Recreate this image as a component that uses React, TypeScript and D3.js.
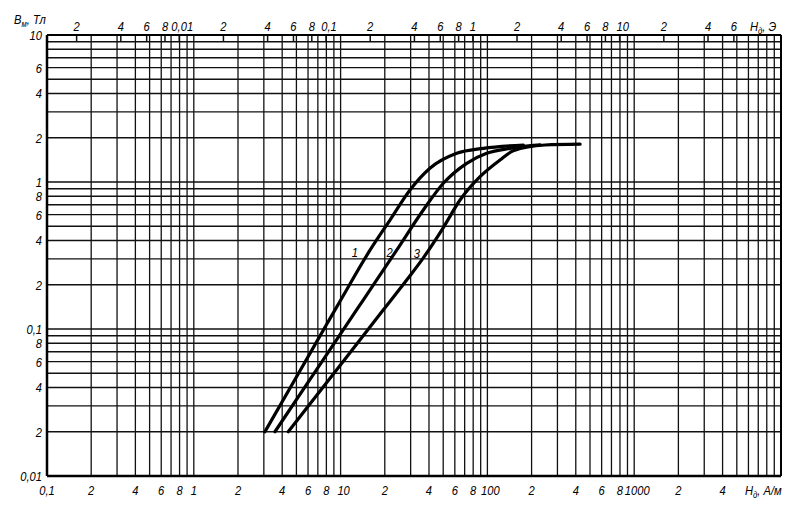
import React from 'react';
import * as d3 from 'd3';

// Axis domains
const H_DOMAIN: [number, number] = [0.1, 10000]; // A/m
const B_DOMAIN: [number, number] = [0.01, 10]; // T
const OE_PER_AM = 1 / 79.577; // 1 A/m in Oe

// Grid decades
const H_DECADES = [0.1, 1, 10, 100, 1000];
const B_DECADES = [0.01, 0.1, 1];
const MULTS = [1, 2, 3, 4, 5, 6, 7, 8, 9];

// Tick labels
const bottomTicks = [0.1, 0.2, 0.4, 0.6, 0.8, 1, 2, 4, 6, 8, 10, 20, 40, 60, 80, 100, 200, 400, 600, 800, 1000, 2000, 4000];
const bottomTickLabels = ['0,1', '2', '4', '6', '8', '1', '2', '4', '6', '8', '10', '2', '4', '6', '8', '100', '2', '4', '6', '8', '1000', '2', '4'];
const topTicks = [0.002, 0.004, 0.006, 0.008, 0.01, 0.02, 0.04, 0.06, 0.08, 0.1, 0.2, 0.4, 0.6, 0.8, 1, 2, 4, 6, 8, 10, 20, 40, 60];
const topTickLabels = ['2', '4', '6', '8', '0,01', '2', '4', '6', '8', '0,1', '2', '4', '6', '8', '1', '2', '4', '6', '8', '10', '2', '4', '6'];
const leftTicks = [10, 6, 4, 2, 1, 0.8, 0.6, 0.4, 0.2, 0.1, 0.08, 0.06, 0.04, 0.02, 0.01];
const leftTickLabels = ['10', '6', '4', '2', '1', '8', '6', '4', '2', '0,1', '8', '6', '4', '2', '0,01'];

// Curves (H in A/m, B in T)
const curve1H = [3.05, 5.29, 8.04, 9.91, 15.9, 21.7, 29.7, 40.6, 61.8, 93.8, 176];
const curve1B = [0.02, 0.052, 0.1076, 0.1545, 0.345, 0.551, 0.882, 1.24, 1.567, 1.695, 1.785];
const curve2H = [3.57, 6.19, 9.91, 14.3, 24.1, 36.6, 50.1, 72.3, 98.9, 142.6, 228];
const curve2B = [0.02, 0.0455, 0.0915, 0.158, 0.344, 0.645, 0.98, 1.34, 1.567, 1.695, 1.787];
const curve3H = [4.4, 6.88, 9.91, 19.5, 28.2, 36.6, 50.1, 65.1, 89.1, 121.8, 150, 247, 428];
const curve3B = [0.02, 0.0354, 0.0565, 0.1346, 0.2155, 0.305, 0.49, 0.754, 1.087, 1.41, 1.63, 1.785, 1.81];
const curveNames = ['1', '2', '3'];
const curveLabelH = [12.5, 21.6, 33.1];
const curveLabelB = [0.309, 0.309, 0.305];

const W = 802;
const H = 513;
const M = { left: 47, right: 781, top: 35, bottom: 476 };

const font = "'Liberation Sans', Arial, sans-serif";

function T({ x, y, anchor = 'start', size = 13, children }: { x: number; y: number; anchor?: string; size?: number; children: React.ReactNode }) {
  return (
    <text
      transform={`translate(${x},${y}) scale(0.86,1)`}
      textAnchor={anchor as any}
      style={{ fontFamily: font, fontStyle: 'italic', fontSize: size, fill: '#000' }}
    >
      {children}
    </text>
  );
}

export default function App() {
  const x = d3.scaleLog().domain(H_DOMAIN).range([M.left, M.right]);
  const y = d3.scaleLog().domain(B_DOMAIN).range([M.bottom, M.top]);
  const xOe = d3.scaleLog().domain([H_DOMAIN[0] * OE_PER_AM, H_DOMAIN[1] * OE_PER_AM]).range([M.left, M.right]);

  const hGrid: number[] = [];
  H_DECADES.forEach((d) => MULTS.forEach((m) => hGrid.push(d * m)));
  hGrid.push(10000);
  const bGrid: number[] = [];
  B_DECADES.forEach((d) => MULTS.forEach((m) => bGrid.push(d * m)));
  bGrid.push(10);

  const line = d3
    .line<[number, number]>()
    .x((d) => x(d[0]))
    .y((d) => y(d[1]))
    .curve(d3.curveMonotoneX);

  const curves = [
    curve1H.map((h, i) => [h, curve1B[i]] as [number, number]),
    curve2H.map((h, i) => [h, curve2B[i]] as [number, number]),
    curve3H.map((h, i) => [h, curve3B[i]] as [number, number]),
  ];

  const decadeLabel = (s: string) => s.includes(',') || s.length > 1;

  return (
    <svg width={W} height={H} style={{ position: 'absolute', left: 0, top: 0, background: '#fff' }}>
      <rect x={0} y={0} width={W} height={H} fill="#fff" />
      {/* vertical grid */}
      {hGrid.map((v, i) => (
        <line key={'v' + i} x1={x(v)} x2={x(v)} y1={M.top} y2={M.bottom} stroke="#111" strokeWidth={1.3} />
      ))}
      {/* horizontal grid */}
      {bGrid.map((v, i) => (
        <line key={'h' + i} x1={M.left} x2={M.right} y1={y(v)} y2={y(v)} stroke="#111" strokeWidth={1.3} />
      ))}
      {/* Oe ticks at top */}
      {topTicks.map((v, i) => (
        <line key={'ot' + i} x1={xOe(v)} x2={xOe(v)} y1={M.top} y2={M.top + 7} stroke="#111" strokeWidth={1.5} />
      ))}
      {/* frame */}
      <line x1={M.left} x2={M.left} y1={M.top} y2={M.bottom} stroke="#000" strokeWidth={2.5} />
      <line x1={M.left} x2={M.right} y1={M.bottom} y2={M.bottom} stroke="#000" strokeWidth={2.5} />
      <line x1={M.left} x2={M.right} y1={M.top} y2={M.top} stroke="#000" strokeWidth={1.8} />
      <line x1={M.right} x2={M.right} y1={M.top} y2={M.bottom} stroke="#000" strokeWidth={2} />

      {/* curves */}
      {curves.map((c, i) => (
        <path key={'c' + i} d={line(c) || ''} fill="none" stroke="#000" strokeWidth={3.2} strokeLinecap="round" strokeLinejoin="round" />
      ))}
      {curveNames.map((n, i) => (
        <T key={'cn' + i} x={x(curveLabelH[i])} y={y(curveLabelB[i])} anchor="middle">
          {n}
        </T>
      ))}

      {/* bottom labels */}
      {bottomTicks.map((v, i) => (
        <T key={'bl' + i} x={x(v) + (decadeLabel(bottomTickLabels[i]) && i > 0 ? 3 : 0)} y={495} anchor="middle">
          {bottomTickLabels[i]}
        </T>
      ))}
      <T x={745} y={495}>
        H<tspan fontSize={9} dy={3}>д</tspan>
        <tspan dy={-3}>, А/м</tspan>
      </T>

      {/* top labels */}
      {topTicks.map((v, i) => (
        <T key={'tl' + i} x={xOe(v) + (decadeLabel(topTickLabels[i]) ? 3 : 0)} y={31} anchor="middle">
          {topTickLabels[i]}
        </T>
      ))}
      <T x={750} y={31}>
        H<tspan fontSize={9} dy={3}>д</tspan>
        <tspan dy={-3}>, Э</tspan>
      </T>

      {/* left labels */}
      {leftTicks.map((v, i) => (
        <T key={'ll' + i} x={42} y={y(v) + 5} anchor="end">
          {leftTickLabels[i]}
        </T>
      ))}
      <T x={14} y={24}>
        B<tspan fontSize={9} dy={3}>м</tspan>
        <tspan dy={-3}>, Тл</tspan>
      </T>
    </svg>
  );
}
